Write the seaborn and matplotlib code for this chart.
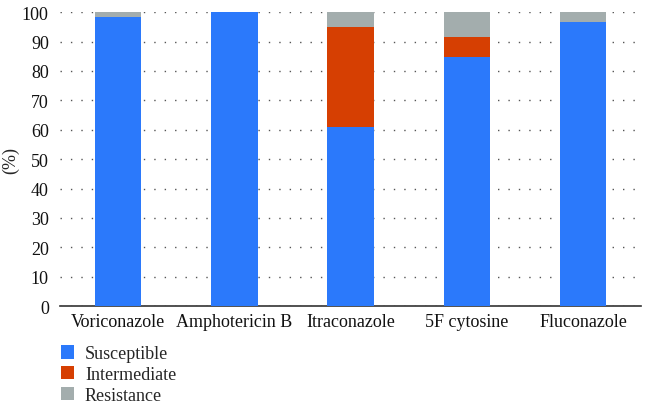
import pandas as pd
import numpy as np
import matplotlib
matplotlib.use("Agg")
import matplotlib.pyplot as plt
import seaborn as sns
from matplotlib.patches import Patch

# datos
farmacos = ["Voriconazole", "Amphotericin B", "Itraconazole", "5F cytosine", "Fluconazole"]
susceptible = [98.3, 100.0, 61.0, 84.8, 96.7]
intermedio = [0.0, 0.0, 34.0, 6.8, 0.0]
resistente = [1.7, 0.0, 5.0, 8.4, 3.3]

series = ["Susceptible", "Intermediate", "Resistance"]
colores = {"Susceptible": "#2b79fb", "Intermediate": "#d63f02", "Resistance": "#a3adad"}

df = pd.DataFrame({
    "Farmaco": farmacos,
    "Susceptible": susceptible,
    "Intermediate": intermedio,
    "Resistance": resistente,
})
# acumulados para apilar
df["tope_S"] = df["Susceptible"]
df["tope_I"] = df["tope_S"] + df["Intermediate"]
df["tope_R"] = df["tope_I"] + df["Resistance"]

sns.set_style("white")
plt.rcParams["font.family"] = ["Liberation Serif", "DejaVu Serif"]

fig = plt.figure(figsize=(6.51, 4.10), dpi=100)
ax = fig.add_axes([0.092, 0.251, 0.893, 0.717])

for col, serie in [("tope_R", "Resistance"), ("tope_I", "Intermediate"), ("tope_S", "Susceptible")]:
    sns.barplot(data=df, x="Farmaco", y=col, color=colores[serie], width=0.4,
                saturation=1, edgecolor="none", linewidth=0, ax=ax, zorder=3)

ax.set_xlim(-0.5, 4.5)
ax.set_ylim(0, 100)
ax.set_yticks(np.arange(0, 101, 10))
ax.yaxis.grid(True, linestyle=(0, (1, 6.5)), color="#555555", linewidth=1.0, zorder=0)
ax.xaxis.grid(False)
ax.set_axisbelow(True)
for s in ["left", "right", "top"]:
    ax.spines[s].set_visible(False)
ax.spines["bottom"].set_color("#333333")
ax.spines["bottom"].set_linewidth(1.2)
ax.tick_params(axis="both", length=0, labelsize=13, colors="#111111")
ax.tick_params(axis="x", pad=5)
ax.tick_params(axis="y", pad=8)
ax.set_xlabel("")
ax.set_ylabel("(%)", fontsize=13, labelpad=2)

handles = [Patch(facecolor=colores[s], edgecolor="none", label=s) for s in series]
fig.legend(handles=handles, loc="upper left", bbox_to_anchor=(0.082, 0.173),
           frameon=False, fontsize=13, handlelength=0.75, handleheight=0.75,
           labelspacing=0.2, handletextpad=0.6, borderaxespad=0)

plt.savefig("out.png", dpi=100)
